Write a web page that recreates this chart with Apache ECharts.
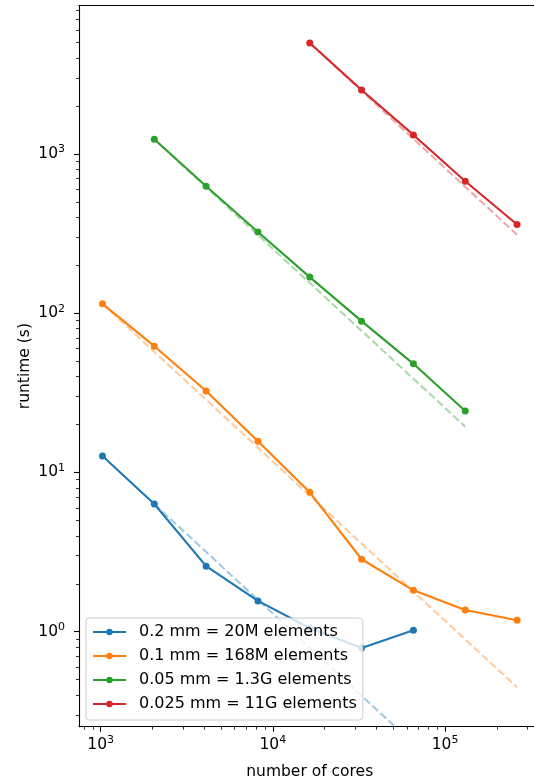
<!DOCTYPE html>
<html>
<head>
<meta charset="utf-8">
<script src="https://cdn.jsdelivr.net/npm/echarts@6/dist/echarts.min.js"></script>
<style>
html,body{margin:0;padding:0;background:#fff;overflow:hidden;}
#chart{width:534px;height:781px;}
</style>
</head>
<body>
<div id="chart"></div>
<script>
// ---- data ----
const seriesNames = ['0.2 mm = 20M elements', '0.1 mm = 168M elements', '0.05 mm = 1.3G elements', '0.025 mm = 11G elements'];
const colors = ['#1f77b4', '#ff7f0e', '#2ca02c', '#d62728'];

const cores20M = [1024, 2048, 4096, 8192, 16384, 32768, 65536];
const runtime20M = [12.7, 6.34, 2.58, 1.56, 1.055, 0.79, 1.02];
const cores168M = [1024, 2048, 4096, 8192, 16384, 32768, 65536, 131072, 262144];
const runtime168M = [114.5, 62.1, 32.5, 15.7, 7.5, 2.85, 1.82, 1.37, 1.18];
const cores1_3G = [2048, 4096, 8192, 16384, 32768, 65536, 131072];
const runtime1_3G = [1238, 628, 324, 168.6, 89.2, 48.1, 24.3];
const cores11G = [16384, 32768, 65536, 131072, 262144];
const runtime11G = [4980, 2525, 1318, 675, 361];

// ideal-scaling dashed lines: endpoints
const ideal20Mx = [2048, 65536];
const ideal20My = [6.34, 0.198];
const ideal168Mx = [1024, 262144];
const ideal168My = [114.5, 0.447];
const ideal1_3Gx = [2048, 131072];
const ideal1_3Gy = [1238, 19.4];
const ideal11Gx = [16384, 262144];
const ideal11Gy = [4980, 311];

// axis ranges and ticks
const xMin = 748, xMax = 358600;
const yMin = 0.2531, yMax = 8564;
const xMajorTicks = [1000, 10000, 100000];
const xMinorTicks = [800, 900, 2000, 3000, 4000, 5000, 6000, 7000, 8000, 9000,
  20000, 30000, 40000, 50000, 60000, 70000, 80000, 90000, 200000, 300000];
const yMajorTicks = [1, 10, 100, 1000];
const yMinorTicks = [0.3, 0.4, 0.5, 0.6, 0.7, 0.8, 0.9, 2, 3, 4, 5, 6, 7, 8, 9,
  20, 30, 40, 50, 60, 70, 80, 90, 200, 300, 400, 500, 600, 700, 800, 900,
  2000, 3000, 4000, 5000, 6000, 7000, 8000];

const FONT = 'DejaVu Sans';
const FS = 15.5;
function zip(xs, ys) { return xs.map((x, i) => [x, ys[i]]); }
function powLabel(v) {
  const e = Math.round(Math.log10(v));
  return '{b|10}{s|' + e + '}';
}
const richPow = {
  b: { fontFamily: FONT, fontSize: FS, color: '#000', lineHeight: 16 },
  s: { fontFamily: FONT, fontSize: 11, color: '#000', lineHeight: 11, padding: [0, 0, 9, 0] }
};

const solid = [
  [cores20M, runtime20M], [cores168M, runtime168M], [cores1_3G, runtime1_3G], [cores11G, runtime11G]
];
const ideal = [
  [ideal20Mx, ideal20My], [ideal168Mx, ideal168My], [ideal1_3Gx, ideal1_3Gy], [ideal11Gx, ideal11Gy]
];

const series = [];
ideal.forEach((d, i) => {
  series.push({
    name: 'ideal-' + i, type: 'line', xAxisIndex: 0, yAxisIndex: 0,
    data: zip(d[0], d[1]), showSymbol: false, symbol: 'none', silent: true,
    lineStyle: { color: colors[i], width: 2.1, type: [7.7, 3.3], opacity: 0.4 },
    z: 1, animation: false
  });
});
solid.forEach((d, i) => {
  series.push({
    name: seriesNames[i], type: 'line', xAxisIndex: 0, yAxisIndex: 0,
    data: zip(d[0], d[1]), symbol: 'circle', symbolSize: 7, showSymbol: true,
    itemStyle: { color: colors[i] },
    lineStyle: { color: colors[i], width: 2.1 },
    z: 3, animation: false
  });
});

const gridBox = { left: 79, top: 5.5, right: -6.5, bottom: 54.3, outerBoundsMode: 'none', containLabel: false, show: false };
const spine = { show: true, lineStyle: { color: '#000', width: 1.1 } };

const chart = echarts.init(document.getElementById('chart'), null, { renderer: 'canvas' });
chart.setOption({
  animation: false,
  backgroundColor: '#fff',
  textStyle: { fontFamily: FONT },
  grid: [Object.assign({}, gridBox), Object.assign({}, gridBox)],
  legend: {
    data: seriesNames,
    orient: 'vertical', left: 86, top: 618,
    padding: [2, 6, 4, 6], itemGap: 0, itemWidth: 33, itemHeight: 8,
    backgroundColor: 'rgba(255,255,255,0.8)', borderColor: '#cccccc', borderWidth: 1, borderRadius: 3,
    textStyle: { fontFamily: FONT, fontSize: 16, color: '#000', lineHeight: 24, padding: [0, 0, 0, 8] },
    z: 10
  },
  xAxis: [{
    gridIndex: 0, type: 'log', logBase: 10, min: xMin, max: xMax, position: 'bottom',
    name: 'number of cores', nameLocation: 'middle', nameGap: 37, nameMoveOverlap: false,
    nameTextStyle: { fontFamily: FONT, fontSize: FS, color: '#000' },
    axisLine: spine,
    axisTick: { show: true, inside: false, length: 5, customValues: xMajorTicks, lineStyle: { color: '#000', width: 1.1 } },
    axisLabel: { show: true, margin: 10, customValues: xMajorTicks, formatter: powLabel, rich: richPow },
    splitLine: { show: false }, minorTick: { show: false }
  }, {
    gridIndex: 1, type: 'log', logBase: 10, min: xMin, max: xMax, position: 'bottom',
    axisLine: { show: false },
    axisTick: { show: true, length: 3, customValues: xMinorTicks, lineStyle: { color: '#000', width: 0.8 } },
    axisLabel: { show: false }, splitLine: { show: false }
  }, {
    gridIndex: 0, type: 'log', logBase: 10, min: xMin, max: xMax, position: 'top',
    axisLine: spine, axisTick: { show: false }, axisLabel: { show: false }, splitLine: { show: false }
  }],
  yAxis: [{
    gridIndex: 0, type: 'log', logBase: 10, min: yMin, max: yMax, position: 'left',
    name: 'runtime (s)', nameLocation: 'middle', nameGap: 46, nameMoveOverlap: false,
    nameTextStyle: { fontFamily: FONT, fontSize: FS, color: '#000' },
    axisLine: spine,
    axisTick: { show: true, length: 5, customValues: yMajorTicks, lineStyle: { color: '#000', width: 1.1 } },
    axisLabel: { show: true, margin: 14, customValues: yMajorTicks, formatter: powLabel, rich: richPow },
    splitLine: { show: false }, minorTick: { show: false }
  }, {
    gridIndex: 1, type: 'log', logBase: 10, min: yMin, max: yMax, position: 'left',
    axisLine: { show: false },
    axisTick: { show: true, length: 3, customValues: yMinorTicks, lineStyle: { color: '#000', width: 0.8 } },
    axisLabel: { show: false }, splitLine: { show: false }
  }],
  series: series
});
</script>
</body>
</html>
